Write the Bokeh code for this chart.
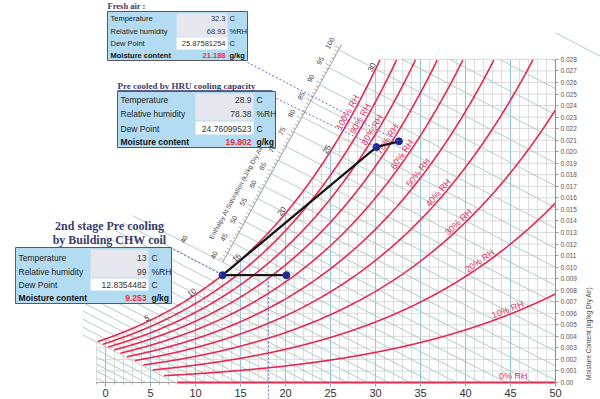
import math
import numpy as np
from bokeh.plotting import figure
from bokeh.models import FixedTicker, Range1d, LinearAxis
from bokeh.core.properties import value
from bokeh.embed import file_html
from bokeh.resources import INLINE

# ------------------------------------------------------------------ data
rh_levels = [1.0, 0.9, 0.8, 0.7, 0.6, 0.5, 0.4, 0.3, 0.2, 0.1]
rh_label_text = ["100% RH", "90% RH", "80% RH", "70% RH", "60% RH",
                 "50% RH", "40% RH", "30% RH", "20% RH", "10% RH"]
rh_label_temps = [27.4, 28.8, 30.1, 31.8, 33.4, 35.2, 37.4, 39.6, 41.9, 44.9]
zero_rh_label = "0% RH"
zero_rh_label_temp = 45.3
sat_label_temps = [5, 10, 15, 20, 25, 30]
wet_bulb_temps = list(range(-6, 36))
enthalpy_scale_labels = [40, 45, 50, 55, 60, 65, 70, 75, 80, 85, 90, 95, 100]
extra_enthalpy_label = (40, 8.7)          # value, dry-bulb where it sits
x_ticks = [0, 5, 10, 15, 20, 25, 30, 35, 40, 45, 50]
x_minor_ticks = list(range(-1, 51))
y_ticks = [round(0.001 * k, 3) for k in range(29)]
y_tick_labels = ["0.00"] + ["%.3f" % v for v in y_ticks[1:]]
y_axis_title = "Moisture Content (kg/kg Dry Air)"
scale_title = "Enthalpy At Saturation (kJ/kg Dry Air)"

# process
process_T = [13.0, 30.1, 32.6]
process_w = [0.0093, 0.0204, 0.0209]
coil_T = [13.0, 20.1]
coil_w = [0.0093, 0.0093]
state_T = [13.0, 20.1, 30.1, 32.6]
state_w = [0.0093, 0.0093, 0.0204, 0.0209]
guide_T = 18.1
guide_w = 0.0093

row_labels = ["Temperature", "Relative humidity", "Dew Point", "Moisture content"]
row_units = ["C", "%RH", "C", "g/kg"]
fresh_values = ["32.3", "68.93", "25.87581254", "21.188"]
hru_values = ["28.9", "78.38", "24.76099523", "19.802"]
chw_values = ["13", "99", "12.8354482", "9.253"]

# ------------------------------------------------------------------ figure / mapping
W, H = 600, 399
KX = 9.0           # px per degC
KY = 11540.0       # px per kg/kg
X0 = -105.0 / KX
X1 = X0 + W / KX
Y1 = 382.0 / KY
Y0 = Y1 - H / KY


def dx(px):
    return X0 + px / KX


def dy(py):
    return Y1 - py / KY


p = figure(width=W, height=H, x_range=Range1d(X0, X1), y_range=Range1d(Y0, Y1),
           output_backend="svg", toolbar_location=None,
           x_axis_location=None, y_axis_location=None, min_border=0)
p.xgrid.visible = False
p.ygrid.visible = False
p.outline_line_color = None
p.background_fill_color = "white"

xa = LinearAxis(fixed_location=0.0)
xa.ticker = FixedTicker(ticks=x_ticks, minor_ticks=x_minor_ticks)
xa.axis_line_color = None
xa.major_tick_in = 0
xa.major_tick_out = 4
xa.minor_tick_in = 0
xa.minor_tick_out = 2
xa.major_tick_line_color = "#9a9a9a"
xa.minor_tick_line_color = "#aaaaaa"
xa.major_label_standoff = 2
xa.major_label_text_font = "Liberation Sans"
xa.major_label_text_font_size = "11px"
xa.major_label_text_color = "#333333"
p.add_layout(xa, "below")

ya = LinearAxis(fixed_location=50.0)
ya.ticker = FixedTicker(ticks=y_ticks, minor_ticks=[])
ya.major_label_overrides = {v: s for v, s in zip(y_ticks, y_tick_labels)}
ya.axis_line_color = None
ya.major_tick_in = 0
ya.major_tick_out = 3
ya.major_tick_line_color = "#9a9a9a"
ya.major_label_standoff = 2
ya.major_label_text_font = "Liberation Sans"
ya.major_label_text_font_size = "6.5px"
ya.major_label_text_color = "#555555"
p.add_layout(ya, "right")

# ------------------------------------------------------------------ psychrometrics
P_ATM = 101.325
W_TOP = 0.028


def psat(T):
    T = np.asarray(T, dtype=float)
    return 0.61094 * np.exp(17.625 * T / (T + 243.04))


def w_rh(T, rh):
    ps = rh * psat(T)
    return 0.622 * ps / (P_ATM - ps)


def enthalpy(T, w):
    return 1.006 * T + w * (2501.0 + 1.86 * T)


def t_from_hw(h, w):
    return (h - 2501.0 * w) / (1.006 + 1.86 * w)


T_fine = np.linspace(-12, 55, 6701)
W_sat_fine = w_rh(T_fine, 1.0)


def dew_T(w):
    return float(np.interp(w, W_sat_fine, T_fine))


def isen_dir(T, w):
    # screen direction (right, up) moving up-left along constant enthalpy
    dT = -(2501.0 + 1.86 * T) / (1.006 + 1.86 * w)
    vx, vy = dT * KX, KY
    n = math.hypot(vx, vy)
    return vx / n, vy / n


# ------------------------------------------------------------------ grid
for T in range(-1, 51):
    top = min(float(w_rh(T, 1.0)), W_TOP)
    if T % 5 == 0:
        p.line([T, T], [0, top], line_color="#93c6de", line_width=1.1)
    else:
        p.line([T, T], [0, top], line_color="#d6d6d6", line_width=0.8)

hx, hy = [], []
for k in range(1, 29):
    w = k / 1000.0
    hx.append([max(dew_T(w), -1.0), 50.0])
    hy.append([w, w])
p.multi_line(hx, hy, line_color="#d0d0d0", line_width=0.8)

# enthalpy scale line (straight)
SA = (13.3, 0.0108)
SB = (26.1, 0.0291)
tt = np.linspace(-0.4, 1.3, 3401)
sT = SA[0] + tt * (SB[0] - SA[0])
sW = SA[1] + tt * (SB[1] - SA[1])
sH = enthalpy(sT, sW)


def scale_pt(h):
    return float(np.interp(h, sH, sT)), float(np.interp(h, sH, sW))


H_LO, H_HI = 39.5, 101.0

# constant-enthalpy lines through each whole saturation temperature
ex, ey = [], []
for twb in wet_bulb_temps:
    ws = float(w_rh(twb, 1.0))
    h = float(enthalpy(twb, ws))
    t0 = h / 1.006
    if t0 <= 50:
        lo = (t0, 0.0)
    else:
        lo = (50.0, (h - 1.006 * 50) / (2501.0 + 1.86 * 50))
    if twb < -1:
        wl = (h + 1.006) / (2501.0 - 1.86)
        up = (-1.0, wl)
    elif ws > W_TOP:
        up = (float(t_from_hw(h, W_TOP)), W_TOP)
    elif H_LO <= h <= H_HI:
        up = scale_pt(h)
    elif h < H_LO:
        w1 = (h + 1.006 * 2.5) / (2501.0 - 1.86 * 2.5)
        w2 = ws + 0.0045
        wu = min(w1, w2)
        up = (float(t_from_hw(h, wu)), wu)
    else:
        up = (float(twb), ws)
    ex.append([up[0], lo[0]])
    ey.append([up[1], lo[1]])
p.multi_line(ex, ey, line_color="#adc7bb", line_width=0.9)

# scale line + ticks + labels
h_line = np.linspace(H_LO, H_HI, 50)
p.line([scale_pt(h)[0] for h in h_line], [scale_pt(h)[1] for h in h_line],
       line_color="#9a9a9a", line_width=1)
svx, svy = (SB[0] - SA[0]) * KX, (SB[1] - SA[1]) * KY
sn = math.hypot(svx, svy)
svx, svy = svx / sn, svy / sn
nx, ny = -svy, svx  # up-left normal (screen, y up)
scale_angle = math.atan2(svy, svx)
tx0, ty0, tx1, ty1 = [], [], [], []
for hv in range(40, 101):
    T_, w_ = scale_pt(hv)
    L = 5.0 if hv % 5 == 0 else 3.0
    tx0.append(T_)
    ty0.append(w_)
    tx1.append(T_ + L * nx / KX)
    ty1.append(w_ + L * ny / KY)
p.segment(tx0, ty0, tx1, ty1, line_color="#9a9a9a", line_width=0.8)

lx, ly, lxo, lyo = [], [], [], []
for hv in enthalpy_scale_labels:
    T_, w_ = scale_pt(hv)
    ux, uy = isen_dir(T_, w_)
    lx.append(T_)
    ly.append(w_)
    lxo.append(11 * ux)
    lyo.append(-11 * uy)
p.text(lx, ly, text=[str(v) for v in enthalpy_scale_labels], x_offset=lxo, y_offset=lyo,
       angle=scale_angle, text_font=value("Liberation Sans"), text_font_size="7px",
       text_color="#444444", text_align="center", text_baseline="middle")

hv_e, T_e = extra_enthalpy_label
w_e = (hv_e - 1.006 * T_e) / (2501.0 + 1.86 * T_e)
p.text([T_e], [w_e], text=[str(hv_e)], angle=scale_angle,
       text_font=value("Liberation Sans"), text_font_size="7px",
       text_color="#444444", text_align="center", text_baseline="middle")

T_t, w_t = scale_pt(56.5)
ux, uy = isen_dir(T_t, w_t)
p.text([T_t], [w_t], text=[scale_title],
       x_offset=[22 * ux], y_offset=[-22 * uy], angle=scale_angle,
       text_font=value("Liberation Sans"), text_font_size="6.5px",
       text_color="#444444", text_align="center", text_baseline="middle")

# ------------------------------------------------------------------ RH curves
RED = "#e8264f"
T_arr = np.arange(-3, 50.0001, 0.05)
cx, cy = [], []
for r in rh_levels:
    w_arr = w_rh(T_arr, r)
    h_arr = enthalpy(T_arr, w_arr)
    m = (h_arr >= 8.0) & (w_arr <= W_TOP)
    cx.append(list(T_arr[m]))
    cy.append(list(w_arr[m]))
p.multi_line(cx, cy, line_color=RED, line_width=1.6)
p.line([-1, 50], [0, 0], line_color="#a0a0a0", line_width=1)
p.line([8, 50], [0, 0], line_color=RED, line_width=2)
p.line([50, 50], [0, W_TOP], line_color="#909090", line_width=1)

rx, ry, ra, rxo, ryo = [], [], [], [], []
for r, T_l in zip(rh_levels, rh_label_temps):
    w_l = float(w_rh(T_l, r))
    dwdT = float(w_rh(T_l + 0.05, r) - w_rh(T_l - 0.05, r)) / 0.1
    a = math.atan2(dwdT * KY, KX)
    rx.append(T_l)
    ry.append(w_l)
    ra.append(a)
    rxo.append(-5 * math.sin(a))
    ryo.append(-5 * math.cos(a))
p.text(rx, ry, text=rh_label_text, angle=ra, x_offset=rxo, y_offset=ryo,
       text_font=value("Liberation Sans"), text_font_size="9px", text_color="#e23562",
       text_align="center", text_baseline="middle")
p.text([zero_rh_label_temp], [0.0], text=[zero_rh_label], y_offset=[-7],
       text_font=value("Liberation Sans"), text_font_size="9px", text_color="#e23562",
       text_align="center", text_baseline="middle")

# saturation temperature labels
qx, qy, qa, qxo, qyo = [], [], [], [], []
for T_s in sat_label_temps:
    w_s = float(w_rh(T_s, 1.0))
    dwdT = float(w_rh(T_s + 0.05, 1.0) - w_rh(T_s - 0.05, 1.0)) / 0.1
    a = math.atan2(dwdT * KY, KX)
    ux, uy = isen_dir(T_s, w_s)
    qx.append(T_s)
    qy.append(w_s)
    qa.append(a)
    qxo.append(4 * ux)
    qyo.append(-4 * uy)
p.text(qx, qy, text=[str(v) for v in sat_label_temps], angle=qa, x_offset=qxo, y_offset=qyo,
       text_font=value("Liberation Sans"), text_font_size="8px", text_color="#444444",
       text_align="center", text_baseline="middle")

# ------------------------------------------------------------------ process
p.line([guide_T, guide_T], [Y0, guide_w], line_color="#6a6ad0", line_dash="2 2",
       line_width=1)
p.line(process_T, process_w, line_color="#151515", line_width=2.2)
p.line(coil_T, coil_w, line_color="#151515", line_width=2.2)
p.scatter(state_T, state_w, size=7, marker="circle", fill_color="#1c2b94",
          line_color="#1c2b94")

# ------------------------------------------------------------------ tables
BLUE = "#b3dbf1"
GRAY = "#e6e7ee"
TITLE = "#3b3b6e"
FONT = value("Liberation Sans")

tables = [
    dict(values=fresh_values, box=(107, 11, 247, 60), cells=(176, 227),
         gray=(13, 37), white=(37, 49), rows=[18, 30.5, 43, 55], label_x=110,
         value_r=225, unit_x=229, fs="7.5px"),
    dict(values=hru_values, box=(117, 91, 275, 147), cells=(195, 253),
         gray=(93, 120), white=(121, 134), rows=[99, 113, 128, 141], label_x=120,
         value_r=251, unit_x=256, fs="8.5px"),
    dict(values=chw_values, box=(15, 247, 171, 303), cells=(90, 148),
         gray=(249, 277), white=(278, 290), rows=[257, 271, 284, 297], label_x=18,
         value_r=146, unit_x=151, fs="8.5px"),
]

for tb in tables:
    l, t, r, b = tb["box"]
    p.quad(left=[dx(l)], right=[dx(r)], top=[dy(t)], bottom=[dy(b)],
           fill_color=BLUE, line_color="#5a5a5a", line_width=1)
    c0, c1 = tb["cells"]
    p.quad(left=[dx(c0), dx(c0)], right=[dx(c1), dx(c1)],
           top=[dy(tb["gray"][0]), dy(tb["white"][0])],
           bottom=[dy(tb["gray"][1]), dy(tb["white"][1])],
           fill_color=[GRAY, "#ffffff"], line_color=None)
    ys = [dy(v) for v in tb["rows"]]
    p.text([dx(tb["label_x"])] * 3, ys[:3], text=row_labels[:3], text_font=FONT,
           text_font_size=tb["fs"], text_color="#222222", text_baseline="middle")
    p.text([dx(tb["label_x"])], ys[3:], text=row_labels[3:], text_font=FONT,
           text_font_size=tb["fs"], text_font_style="bold", text_color="#111111",
           text_baseline="middle")
    p.text([dx(tb["value_r"])] * 3, ys[:3], text=tb["values"][:3], text_font=FONT,
           text_font_size=tb["fs"], text_color="#333333", text_align="right",
           text_baseline="middle")
    p.text([dx(tb["value_r"])], ys[3:], text=tb["values"][3:], text_font=FONT,
           text_font_size=tb["fs"], text_font_style="bold", text_color="#e8303a",
           text_align="right", text_baseline="middle")
    p.text([dx(tb["unit_x"])] * 3, ys[:3], text=row_units[:3], text_font=FONT,
           text_font_size=tb["fs"], text_color="#222222", text_baseline="middle")
    p.text([dx(tb["unit_x"])], ys[3:], text=row_units[3:], text_font=FONT,
           text_font_size=tb["fs"], text_font_style="bold", text_color="#111111",
           text_baseline="middle")

SERIF = value("Liberation Serif")
p.text([dx(107)], [dy(5)], text=["Fresh air :"], text_font=SERIF, text_font_size="8.5px",
       text_font_style="bold", text_color=TITLE, text_baseline="middle")
p.text([dx(117)], [dy(85)], text=["Pre cooled by HRU cooling capacity"], text_font=SERIF,
       text_font_size="9px", text_font_style="bold", text_color=TITLE,
       text_baseline="middle")
p.line([dx(117), dx(272)], [dy(90), dy(90)], line_color=TITLE, line_width=0.8)
p.text([dx(109), dx(109)], [dy(225), dy(239)],
       text=["2nd stage Pre cooling", "by Building CHW coil"], text_font=SERIF,
       text_font_size="12px", text_font_style="bold", text_color=TITLE,
       text_align="center", text_baseline="middle")

# leader lines from tables to states
lead_x0 = [dx(247), dx(276), dx(173)]
lead_y0 = [dy(62), dy(98), dy(249)]
lead_x1 = [state_T[3], state_T[2], state_T[0]]
lead_y1 = [state_w[3], state_w[2], state_w[0]]
p.segment(lead_x0, lead_y0, lead_x1, lead_y1, line_color="#6a6ad0",
          line_dash="2 2", line_width=1)

# right axis title (kept inside the frame, beside the fixed right axis)
p.text([dx(588)], [dy(333)], text=[y_axis_title], angle=math.pi / 2,
       text_font=FONT, text_font_size="6.5px", text_color="#444444",
       text_align="center", text_baseline="middle")

open("out.html", "w").write(file_html(p, INLINE))
